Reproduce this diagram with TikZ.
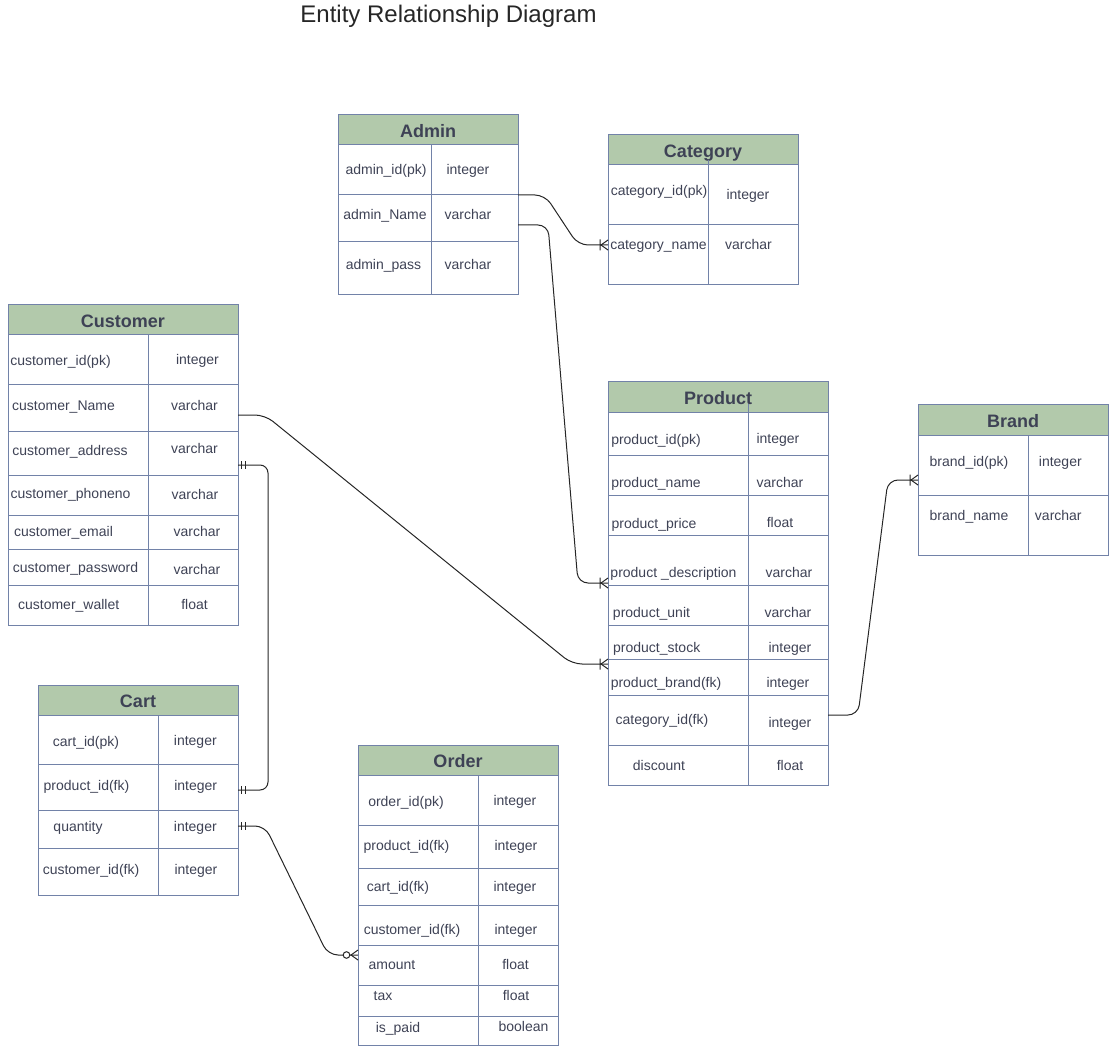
\documentclass[tikz,border=0pt]{standalone}
\usepackage{fontspec}
\setmainfont{Liberation Sans}
\usetikzlibrary{positioning, calc}
\definecolor{hdrgreen}{HTML}{B2C9AB}
\definecolor{tblline}{HTML}{7282A8}
\definecolor{ink}{HTML}{3E4255}

\tikzset{
    hdr/.style={draw=tblline, fill=hdrgreen, line width=1pt, minimum height=30,
        inner sep=0, outer sep=0, text=ink, text height=15pt, text depth=0pt,
        font=\fontsize{18}{20}\selectfont\bfseries, anchor=north west},
    cell/.style={draw=tblline, line width=1pt, inner sep=0, outer sep=0, anchor=north west},
    colrule/.style={draw=tblline, line width=1pt},
    txt/.style={anchor=base, yshift=-5pt, inner sep=0, text=ink,
        font=\fontsize{14}{16}\selectfont},
    rel/.style={draw=black!85, line width=1pt, rounded corners=10pt},
    markline/.style={draw=black!85, line width=1pt},
    pics/onemany/.style={code={
        \draw[markline] (-8,-5.5) -- (-8,5.5) (0,-5) -- (-7,0) -- (0,5);}},
    pics/zeromany/.style={code={
        \draw[markline, fill=white] (-11.5,0) circle[radius=3.3pt];
        \draw[markline] (0,-5) -- (-7,0) -- (0,5);}},
    pics/onlyone/.style={code={
        \draw[markline] (3,-4) -- (3,4) (7,-4) -- (7,4);}},
}

\begin{document}
\begin{tikzpicture}[x=1pt, y=-1pt]
    \useasboundingbox (0,0) rectangle (1111,1048);

    \node[font=\fontsize{24}{28}\selectfont, text=black!85, anchor=base, inner sep=0]
        (title) at (448.5,23) {Entity Relationship Diagram};

    % Admin
    \node[hdr, minimum width=180] (admin) at (338,115) {Admin};
    \foreach \i/\ya/\yb in {1/145/195, 2/195/242, 3/242/295}
        \node[cell, minimum width=180, minimum height=\yb-\ya] (admin-\i) at (338,\ya) {};
    \draw[colrule] (431,145) -- (431,295);
    \foreach \t/\x/\y [count=\k] in {admin\_id(pk)/386/170, integer/468/170,
            admin\_Name/385/215, varchar/468/215, admin\_pass/383.5/265, varchar/468/265}
        \node[txt] (admin-t\k) at (\x,\y) {\t};

    % Category
    \node[hdr, minimum width=190] (cat) at (608,135) {Category};
    \foreach \i/\ya/\yb in {1/165/225, 2/225/285}
        \node[cell, minimum width=190, minimum height=\yb-\ya] (cat-\i) at (608,\ya) {};
    \draw[colrule] (708,160) -- (708,285);
    \foreach \t/\x/\y [count=\k] in {category\_id(pk)/659/191, integer/748/195,
            category\_name/658.5/245, varchar/748.5/245}
        \node[txt] (cat-t\k) at (\x,\y) {\t};

    % Customer
    \node[hdr, minimum width=230] (cust) at (8,305) {Customer};
    \foreach \i/\ya/\yb in {1/335/385, 2/385/431, 3/431/475, 4/475/515,
            5/515/549, 6/549/585, 7/585/625}
        \node[cell, minimum width=230, minimum height=\yb-\ya] (cust-\i) at (8,\ya) {};
    \draw[colrule] (148,335) -- (148,625);
    \foreach \t/\x/\y [count=\k] in {customer\_id(pk)/60.5/361, integer/197.5/360,
            customer\_Name/63.5/405, varchar/194.5/405,
            customer\_address/70/450, varchar/194.5/448,
            customer\_phoneno/70.5/493, varchar/195/494,
            customer\_email/63.5/531, varchar/197/531,
            customer\_password/75.5/567, varchar/197/569,
            customer\_wallet/68.7/604, float/194.5/604}
        \node[txt] (cust-t\k) at (\x,\y) {\t};

    % Cart
    \node[hdr, minimum width=200] (cart) at (38,685) {Cart};
    \foreach \i/\ya/\yb in {1/715/764, 2/764/810, 3/810/848, 4/848/895}
        \node[cell, minimum width=200, minimum height=\yb-\ya] (cart-\i) at (38,\ya) {};
    \draw[colrule] (158,715) -- (158,895);
    \foreach \t/\x/\y [count=\k] in {cart\_id(pk)/86/741, integer/195.3/740,
            product\_id(fk)/86.5/785, integer/195.7/785,
            quantity/78/826, integer/195.3/826,
            customer\_id(fk)/91/869, integer/196/869}
        \node[txt] (cart-t\k) at (\x,\y) {\t};

    % Order
    \node[hdr, minimum width=200] (order) at (358,745) {Order};
    \foreach \i/\ya/\yb in {1/775/825, 2/825/868, 3/868/905, 4/905/945,
            5/945/985, 6/985/1016, 7/1016/1045}
        \node[cell, minimum width=200, minimum height=\yb-\ya] (order-\i) at (358,\ya) {};
    \draw[colrule] (478,775) -- (478,1045);
    \foreach \t/\x/\y [count=\k] in {order\_id(pk)/406/801, integer/515/800,
            product\_id(fk)/406.5/845, integer/516/845,
            cart\_id(fk)/398/886, integer/515/886,
            customer\_id(fk)/412/929, integer/516/929,
            amount/392/964, float/515.5/964,
            tax/383/995, float/516/995,
            is\_paid/398/1027, boolean/523.5/1026}
        \node[txt] (order-t\k) at (\x,\y) {\t};

    % Product
    \node[hdr, minimum width=220] (prod) at (608,382) {Product};
    \foreach \i/\ya/\yb in {1/412/455, 2/455/495, 3/495/535, 4/535/585, 5/585/625,
            6/625/659, 7/659/695, 8/695/745, 9/745/785}
        \node[cell, minimum width=220, minimum height=\yb-\ya] (prod-\i) at (608,\ya) {};
    \draw[colrule] (748,404) -- (748,785);
    \foreach \t/\x/\y [count=\k] in {product\_id(pk)/656/439, integer/778/438,
            product\_name/656/482, varchar/780/482,
            product\_price/654/523, float/780/522,
            product \_description/673.5/572, varchar/789/572,
            product\_unit/651.5/612, varchar/788/612,
            product\_stock/656.7/647, integer/790/647,
            product\_brand(fk)/666/682, integer/788/682,
            category\_id(fk)/662/719, integer/790/722,
            discount/659/765, float/790/765}
        \node[txt] (prod-t\k) at (\x,\y) {\t};

    % Brand
    \node[hdr, minimum width=190] (brand) at (918,405) {Brand};
    \foreach \i/\ya/\yb in {1/435/495, 2/495/555}
        \node[cell, minimum width=190, minimum height=\yb-\ya] (brand-\i) at (918,\ya) {};
    \draw[colrule] (1028,435) -- (1028,555);
    \foreach \t/\x/\y [count=\k] in {brand\_id(pk)/969/461, integer/1060.3/461,
            brand\_name/969/515, varchar/1058.3/515}
        \node[txt] (brand-t\k) at (\x,\y) {\t};

    % relations
    \draw[rel] (admin-1.south east) -- ++(27,0)
        -- ($(cat-2.north west)+(-30,20)$) -- ($(cat-2.north west)+(0,20)$);
    \draw[rel] ($(admin-2.north east)+(0,30)$) -- ++(30,0)
        -- ($(prod-4.south west)+(-30,-2)$) -- ($(prod-4.south west)+(0,-2)$);
    \draw[rel] ($(cust-2.north east)+(0,30)$) -- ++(27,0)
        -- ($(prod-7.north west)+(-36,5)$) -- ($(prod-7.north west)+(0,5)$);
    \draw[rel, rounded corners=8pt] ($(cust-3.north east)+(0,34)$) -- ++(30,0)
        |- ($(cart-2.north east)+(0,26)$);
    \draw[rel] ($(cart-3.north east)+(0,16)$) -- ++(27,0)
        -- ($(order-5.north west)+(-30,10)$) -- ($(order-5.north west)+(0,10)$);
    \draw[rel] ($(prod-8.north east)+(0,20)$) -- ++(30,0)
        -- ($(brand-1.north west)+(-30,45)$) -- ($(brand-1.north west)+(0,45)$);

    % ends
    \pic at ($(cat-2.north west)+(0,20)$) {onemany};
    \pic at ($(prod-4.south west)+(0,-2)$) {onemany};
    \pic at ($(prod-7.north west)+(0,5)$) {onemany};
    \pic at ($(brand-1.north west)+(0,45)$) {onemany};
    \pic at ($(order-5.north west)+(0,10)$) {zeromany};
    \pic at ($(cust-3.north east)+(0,34)$) {onlyone};
    \pic at ($(cart-2.north east)+(0,26)$) {onlyone};
    \pic at ($(cart-3.north east)+(0,16)$) {onlyone};
\end{tikzpicture}
\end{document}
